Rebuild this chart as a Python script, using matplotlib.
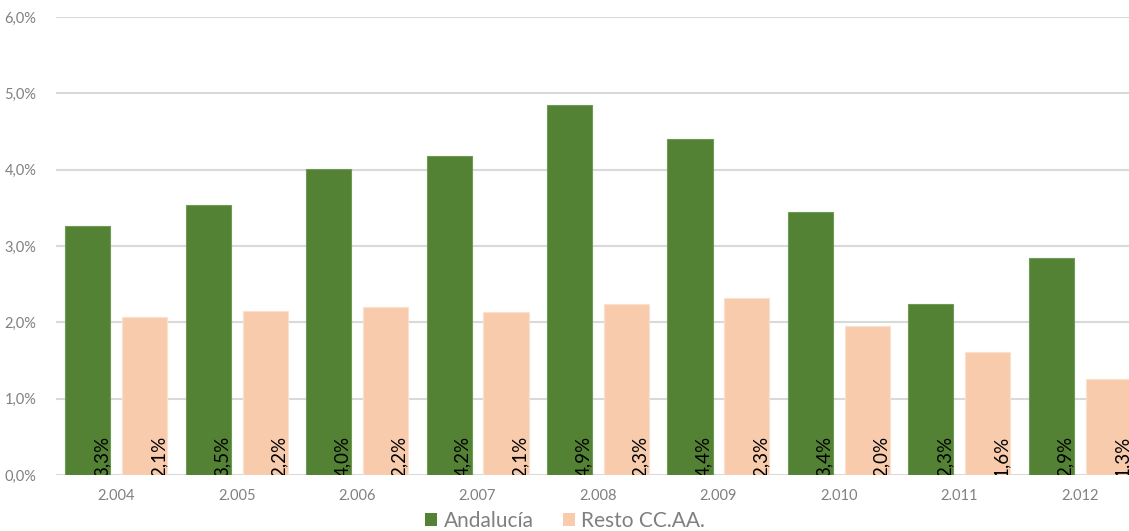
import numpy as np
import matplotlib
matplotlib.use("Agg")
import matplotlib.pyplot as plt
from matplotlib.patches import Patch

# Datos
years = ['2.004', '2.005', '2.006', '2.007', '2.008', '2.009', '2.010', '2.011', '2.012']
andalucia = [3.26, 3.54, 4.01, 4.18, 4.85, 4.40, 3.45, 2.24, 2.84]
resto = [2.07, 2.15, 2.20, 2.14, 2.24, 2.32, 1.95, 1.61, 1.26]
andalucia_lbl = ['3,3%', '3,5%', '4,0%', '4,2%', '4,9%', '4,4%', '3,4%', '2,3%', '2,9%']
resto_lbl = ['2,1%', '2,2%', '2,2%', '2,1%', '2,3%', '2,3%', '2,0%', '1,6%', '1,3%']
yticks = [0, 1, 2, 3, 4, 5, 6]
ytick_lbl = ['0,0%', '1,0%', '2,0%', '3,0%', '4,0%', '5,0%', '6,0%']

verde = '#548235'
rosa = '#F8CBAD'
gris = '#808080'

plt.rcParams['font.family'] = ['Lato', 'DejaVu Sans']

fig = plt.figure(figsize=(11.29, 5.31), dpi=100)
ax = fig.add_axes([56 / 1129, 56 / 531, (1140 - 56) / 1129, 458 / 531])

x = np.arange(len(years))
w = 0.375
off = 0.236
ax.bar(x - off, andalucia, w, color=verde, edgecolor='#6f9a55', linewidth=0.8, zorder=2)
ax.bar(x + off, resto, w, color=rosa, edgecolor='#fbe0cd', linewidth=0.8, zorder=2)

# Etiquetas de datos (giradas, en la base)
for i in range(len(years)):
    ax.text(x[i] - off + 0.115, -0.03, andalucia_lbl[i], rotation=90, ha='center', va='bottom',
            fontsize=13.5, color='black', clip_on=True, zorder=3)
    ax.text(x[i] + off + 0.115, -0.03, resto_lbl[i], rotation=90, ha='center', va='bottom',
            fontsize=13.5, color='black', clip_on=True, zorder=3)

ax.set_xlim(-0.5, len(years) - 0.5)
ax.set_ylim(0, 6)
ax.set_yticks(yticks)
ax.set_yticklabels(ytick_lbl)
ax.set_xticks(x)
ax.set_xticklabels(years)
ax.tick_params(axis='both', length=0, colors=gris, labelsize=10.5)
ax.tick_params(axis='y', pad=14)
ax.tick_params(axis='x', pad=10)
ax.grid(axis='y', color='#D9D9D9', linewidth=1.5, zorder=0)
ax.set_axisbelow(True)
for s in ax.spines.values():
    s.set_visible(False)

handles = [Patch(facecolor=verde, label='Andalucía'), Patch(facecolor=rosa, label='Resto CC.AA.')]
fig.legend(handles=handles, loc='center', bbox_to_anchor=(565 / 1129, 1 - 521 / 531), ncol=2,
           frameon=False, fontsize=15, labelcolor=gris, handlelength=0.6, handleheight=0.6,
           handletextpad=0.3, columnspacing=1.4)

fig.savefig('out.png', dpi=100)
